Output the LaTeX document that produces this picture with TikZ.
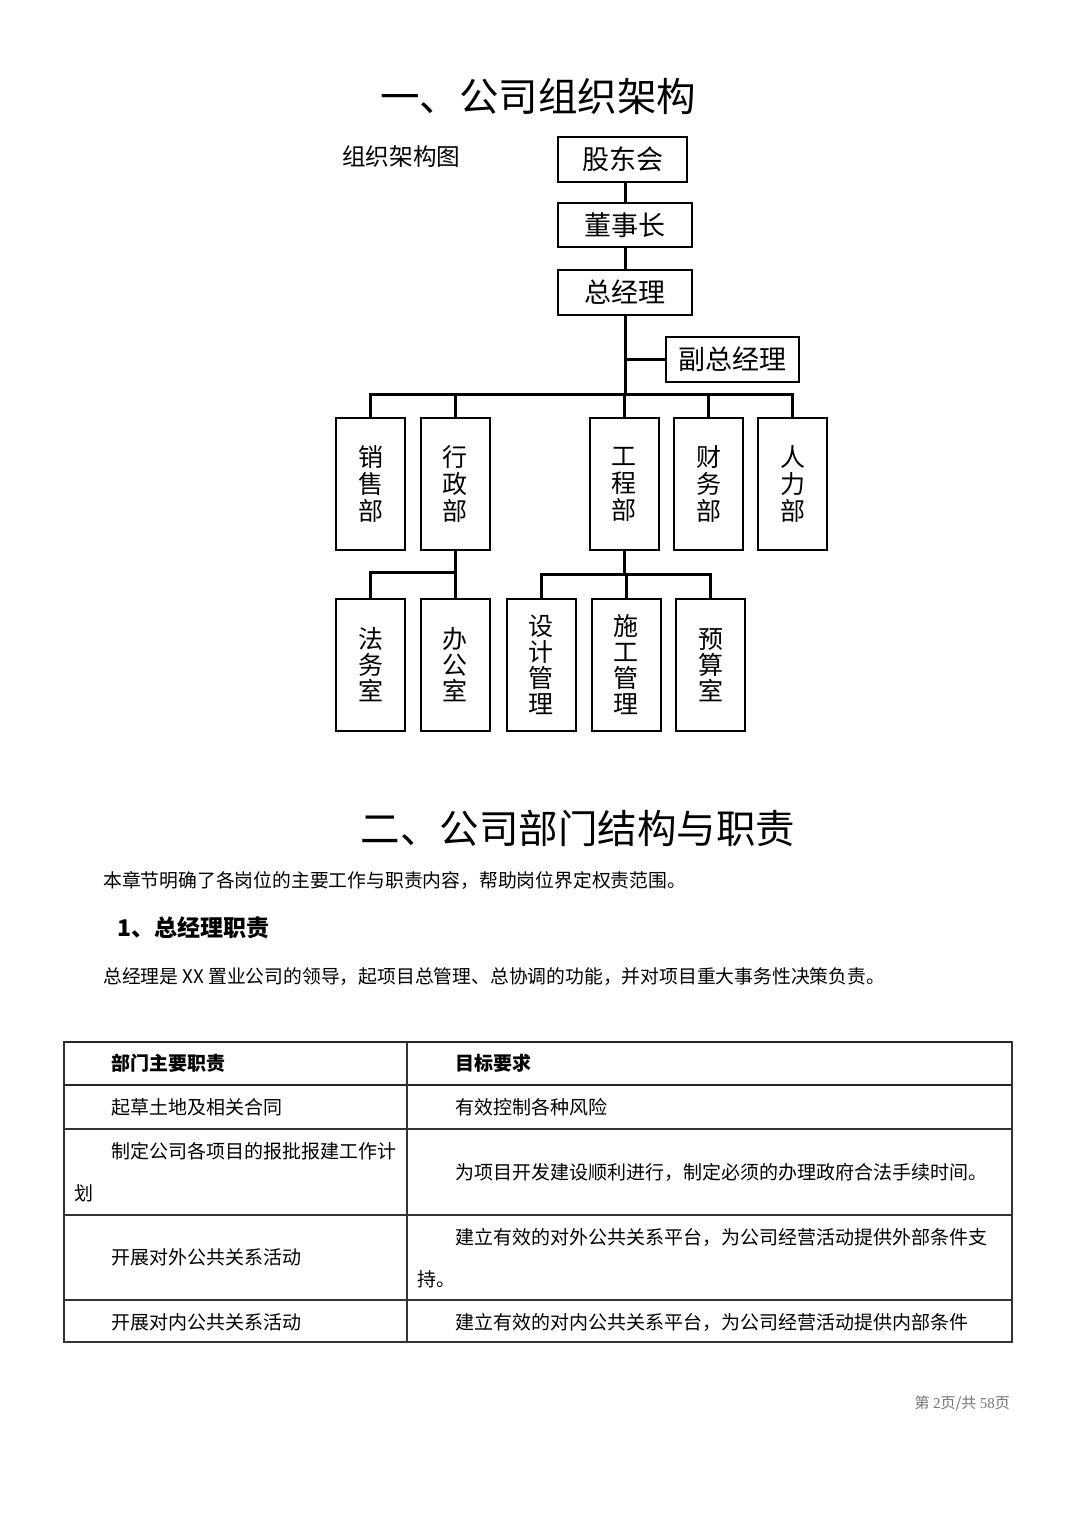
\documentclass[tikz,border=0pt]{standalone}
\usepackage{fontspec}
\setmainfont{Noto Sans CJK SC}
\newfontfamily\serifdigits{Liberation Serif}
\begin{document}
\begin{tikzpicture}[x=1pt,y=-1pt,
  orgbox/.style={draw=black, line width=2pt, inner sep=0pt, font=\fontsize{27}{27}\selectfont},
  deptbox/.style={draw=black, line width=2pt, minimum width=69pt, minimum height=132pt, inner sep=0pt, align=center, font=\fontsize{25}{27}\selectfont},
  subbox/.style={deptbox, font=\fontsize{25}{26}\selectfont},
  conn/.style={line width=3pt},
  body/.style={anchor=west, inner sep=0pt, font=\fontsize{18.8}{19}\selectfont},
  cell/.style={anchor=west, inner sep=0pt, font=\fontsize{19}{19}\selectfont},
  cellb/.style={cell, font=\fontsize{19}{19}\selectfont\bfseries},
  grid/.style={line width=1.2pt, draw=black!80},
  gridthick/.style={line width=1.8pt, draw=black!85}]
\useasboundingbox (0,0) rectangle (1080,1522);
\fill[white] (0,0) rectangle (1080,1522);

% titles
\node[inner sep=0pt, font=\fontsize{39.5}{40}\selectfont] (t1) at (538,97) {一、公司组织架构};
\node[anchor=west, inner sep=0pt, font=\fontsize{23.6}{24}\selectfont] (t1b) at (342,157) {组织架构图};

% top chain
\node[orgbox, minimum width=129pt, minimum height=45pt] (gd) at (622.5,159.5) {股东会};
\node[orgbox, minimum width=134pt, minimum height=44pt] (dsz) at (625,225) {董事长};
\node[orgbox, minimum width=134pt, minimum height=45pt] (zjl) at (625,292.5) {总经理};
\node[orgbox, minimum width=133pt, minimum height=45pt] (fz) at (732.5,359.5) {副总经理};

% departments
\node[deptbox] (xs) at (370.5,484) {销\\售\\部};
\node[deptbox] (xz) at (455,484) {行\\政\\部};
\node[deptbox] (gc) at (624,484) {工\\程\\部};
\node[deptbox] (cw) at (708.5,484) {财\\务\\部};
\node[deptbox] (rl) at (792.5,484) {人\\力\\部};

% sub offices
\node[subbox] (fw) at (370.5,665) {法\\务\\室};
\node[subbox] (bg) at (455,665) {办\\公\\室};
\node[subbox] (sj) at (541,665) {设\\计\\管\\理};
\node[subbox] (sg) at (626,665) {施\\工\\管\\理};
\node[subbox] (ys) at (710.5,665) {预\\算\\室};

% bus coordinates
\coordinate (busC) at (625,394);
\coordinate (subA) at (455,572);
\coordinate (subB) at (626,574);

% connectors
\draw[conn] (dsz.north) -- (dsz.north |- gd.south);
\draw[conn] (zjl.north) -- (zjl.north |- dsz.south);
\draw[conn] (zjl.south) -- (busC);
\draw[conn] (fz.west) -- (fz.west -| zjl.south);
\draw[conn] (xs.north) -- (xs.north |- busC) -- (rl.north |- busC) -- (rl.north);
\draw[conn] (xz.north) -- (xz.north |- busC);
\draw[conn] (gc.north) -- (gc.north |- busC);
\draw[conn] (cw.north) -- (cw.north |- busC);
\draw[conn] (xz.south) -- (bg.north);
\draw[conn] (fw.north) -- (fw.north |- subA) -- (subA);
\draw[conn] (gc.south) -- (gc.south |- subB);
\draw[conn] (sj.north) -- (sj.north |- subB) -- (ys.north |- subB) -- (ys.north);
\draw[conn] (sg.north) -- (sg.north |- subB);

% section two
\node[inner sep=0pt, font=\fontsize{39.5}{40}\selectfont] (t2) at (578,828) {二、公司部门结构与职责};
\node[body] (p1) at (103,880) {本章节明确了各岗位的主要工作与职责内容，帮助岗位界定权责范围。};
\node[anchor=west, inner sep=0pt, font=\fontsize{23}{23}\selectfont\bfseries] (h1) at (117,928) {1、总经理职责};
\node[body] (p2) at (103,977) {总经理是 XX 置业公司的领导，起项目总管理、总协调的功能，并对项目重大事务性决策负责。};

% table
\draw[grid] (64,1042) rectangle (1012,1342);
\draw[gridthick] (64,1042) -- (1012,1042);
\draw[gridthick] (64,1085) -- (1012,1085);
\draw[grid] (64,1129) -- (1012,1129);
\draw[grid] (64,1215) -- (1012,1215);
\draw[grid] (64,1300) -- (1012,1300);
\draw[grid] (407,1042) -- (407,1342);

\node[cellb] (h2a) at (111,1063) {部门主要职责};
\node[cellb] (h2b) at (455,1063) {目标要求};
\node[cell] (r1a) at (111,1107) {起草土地及相关合同};
\node[cell] (r1b) at (455,1107) {有效控制各种风险};
\node[cell] (r2a) at (111,1151) {制定公司各项目的报批报建工作计};
\node[cell] (r2a2) at (74,1193) {划};
\node[cell] (r2b) at (455,1172) {为项目开发建设顺利进行，制定必须的办理政府合法手续时间。};
\node[cell] (r3a) at (111,1257) {开展对外公共关系活动};
\node[cell] (r3b) at (455,1237) {建立有效的对外公共关系平台，为公司经营活动提供外部条件支};
\node[cell] (r3b2) at (417,1279) {持。};
\node[cell] (r4a) at (111,1322) {开展对内公共关系活动};
\node[cell] (r4b) at (455,1322) {建立有效的对内公共关系平台，为公司经营活动提供内部条件};

% footer
\node[anchor=east, inner sep=0pt, text=black!55, font=\fontsize{15}{15}\selectfont] (ft) at (1010,1403) {第 {\serifdigits 2}页/共 {\serifdigits 58}页};
\end{tikzpicture}
\end{document}
